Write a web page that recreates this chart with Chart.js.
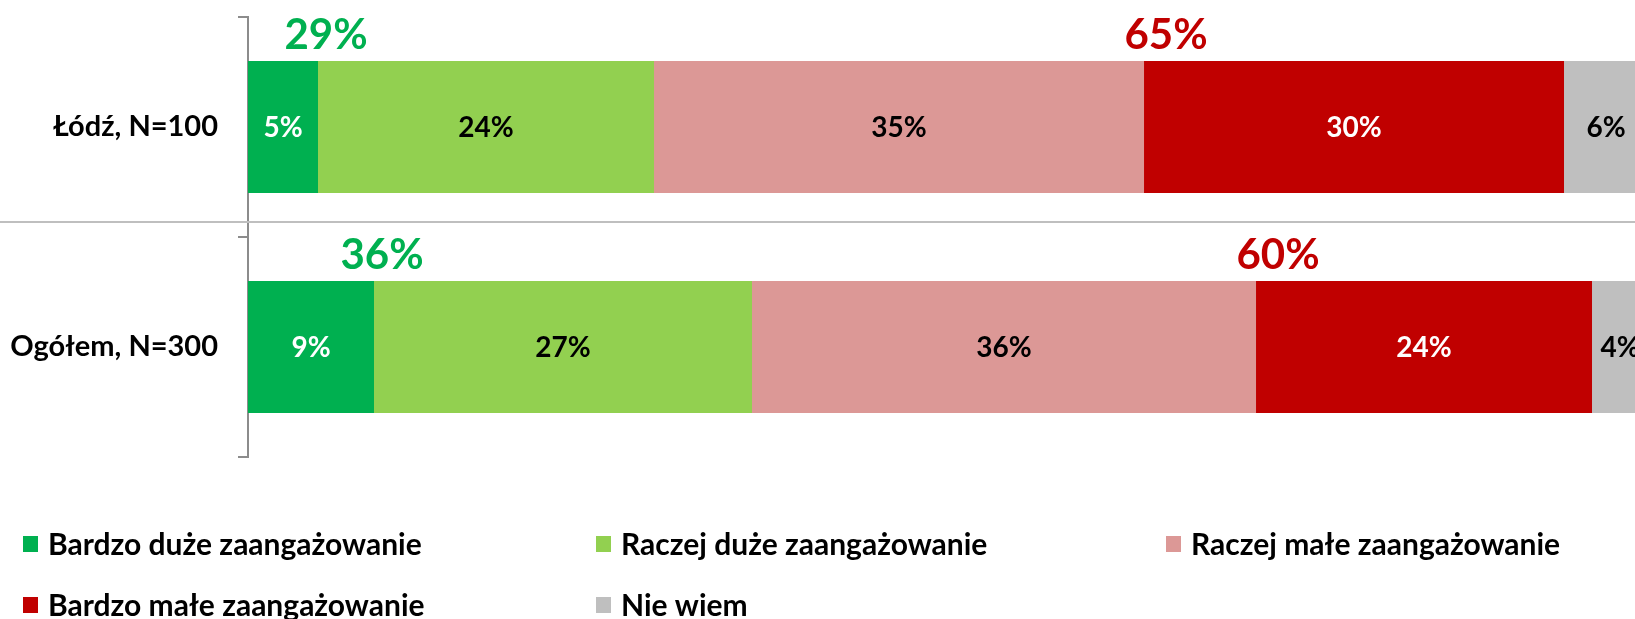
<!DOCTYPE html>
<html>
<head>
<meta charset="utf-8">
<script src="https://cdn.jsdelivr.net/npm/chart.js@4"></script>
<style>
  body { margin: 0; background: #fff; }
  canvas { display: block; }
</style>
</head>
<body>
<canvas id="chart" width="1635" height="619"></canvas>
<script>
// values
var categories = ['Łódź, N=100', 'Ogółem, N=300'];
var bardzoDuze = [5, 9];
var raczejDuze = [24, 27];
var raczejMale = [35, 36];
var bardzoMale = [30, 24];
var nieWiem = [6, 4];
var sumaDuze = [29, 36];
var sumaMale = [65, 60];

var FONT = 'Lato, "Open Sans", sans-serif';

var ctx = document.getElementById('chart');

// labels inside the bars + the two totals above each bar
var barLabels = {
    id: 'barLabels',
    afterDatasetsDraw: function(chart) {
        var c = chart.ctx;
        c.save();
        c.textAlign = 'center';
        c.textBaseline = 'middle';
        c.font = 'bold 28px ' + FONT;
        chart.data.datasets.forEach(function(ds, i) {
            var meta = chart.getDatasetMeta(i);
            meta.data.forEach(function(bar, j) {
                c.fillStyle = ds.labelColor;
                c.fillText(ds.data[j] + '%', (bar.x + bar.base) / 2, bar.y + 1);
            });
        });
        // totals
        c.font = 'bold 42px ' + FONT;
        var first = chart.getDatasetMeta(0).data;
        var third = chart.getDatasetMeta(2).data;
        for (var j = 0; j < categories.length; j++) {
            var top = first[j].y - first[j].height / 2;
            c.fillStyle = '#00B050';
            c.fillText(sumaDuze[j] + '%', first[j].x + 8, top - 26);
            c.fillStyle = '#C00000';
            c.fillText(sumaMale[j] + '%', third[j].x + 22, top - 26);
        }
        c.restore();
    }
};

// thin separator between the two rows
var separator = {
    id: 'separator',
    beforeDatasetsDraw: function(chart) {
        var y = chart.scales.y;
        var mid = (y.getPixelForValue(0) + y.getPixelForValue(1)) / 2 - 15;
        var c = chart.ctx;
        c.save();
        c.strokeStyle = '#BFBFBF';
        c.lineWidth = 2;
        c.beginPath();
        c.moveTo(0, mid);
        c.lineTo(chart.width, mid);
        c.stroke();
        c.restore();
    }
};

// legend in three columns, like the original
var gridLegend = {
    id: 'gridLegend',
    afterDraw: function(chart) {
        var c = chart.ctx;
        var colX = [23, 596, 1166];
        var rowY = [544, 605];
        c.save();
        c.font = 'bold 30px ' + FONT;
        c.textBaseline = 'middle';
        c.textAlign = 'left';
        chart.data.datasets.forEach(function(ds, i) {
            var x = colX[i % 3];
            var y = rowY[Math.floor(i / 3)];
            c.fillStyle = ds.backgroundColor;
            c.fillRect(x, y - 8, 15, 16);
            c.fillStyle = '#000';
            c.fillText(ds.label, x + 25, y + 1);
        });
        c.restore();
    }
};

var myChart = new Chart(ctx, {
    type: 'bar',
    data: {
        labels: categories,
        datasets: [
            { label: 'Bardzo duże zaangażowanie', data: bardzoDuze, backgroundColor: '#00B050', labelColor: '#fff' },
            { label: 'Raczej duże zaangażowanie', data: raczejDuze, backgroundColor: '#92D050', labelColor: '#000' },
            { label: 'Raczej małe zaangażowanie', data: raczejMale, backgroundColor: '#DC9896', labelColor: '#000' },
            { label: 'Bardzo małe zaangażowanie', data: bardzoMale, backgroundColor: '#C00000', labelColor: '#fff' },
            { label: 'Nie wiem', data: nieWiem, backgroundColor: '#BFBFBF', labelColor: '#000' }
        ]
    },
    options: {
        indexAxis: 'y',
        responsive: false,
        animation: false,
        categoryPercentage: 1,
        barPercentage: 0.6,
        layout: {
            padding: { top: 17, bottom: 162, left: 0, right: 0 }
        },
        plugins: {
            legend: { display: false },
            tooltip: { enabled: false }
        },
        scales: {
            x: {
                stacked: true,
                display: false,
                min: 0,
                max: 99.07
            },
            y: {
                stacked: true,
                afterFit: function(scale) {
                    scale.width = 248;
                    scale.paddingTop = 0;
                    scale.paddingBottom = 0;
                },
                border: { color: '#8C8C8C', width: 2 },
                grid: {
                    offset: true,
                    drawOnChartArea: false,
                    color: '#8C8C8C',
                    lineWidth: 2,
                    tickLength: 10
                },
                ticks: {
                    padding: 20,
                    color: '#000',
                    font: { family: FONT, size: 29, weight: 'bold' }
                }
            }
        }
    },
    plugins: [separator, barLabels, gridLegend]
});
</script>
</body>
</html>
